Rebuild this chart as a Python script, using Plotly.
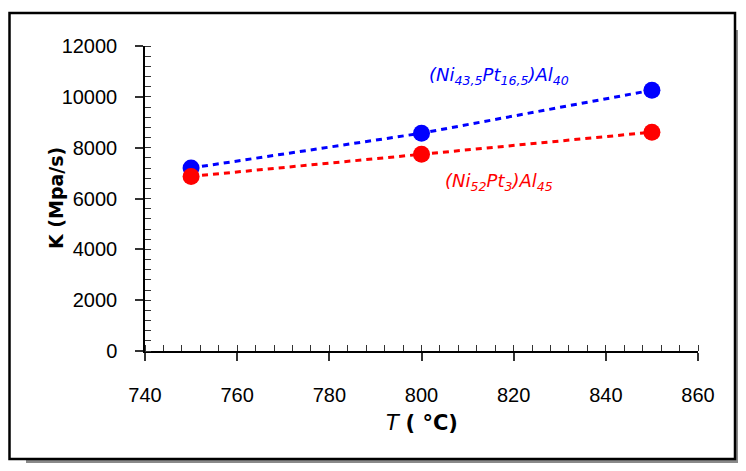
import plotly.graph_objects as go

temperature = [750, 800, 850]
k_alloy_a = [7200, 8570, 10260]   # (Ni43,5Pt16,5)Al40
k_alloy_b = [6870, 7740, 8610]    # (Ni52Pt3)Al45
x_ticks = [740, 760, 780, 800, 820, 840, 860]
y_ticks = [0, 2000, 4000, 6000, 8000, 10000, 12000]
y_tick_text = [str(v) for v in y_ticks]

# page body has an 8px margin; keep the page exactly 746x471 so nothing overflows
OFF = 8
W, H = 746 - 2 * OFF, 471 - 2 * OFF
L, R, T, B = 145 - OFF, W - (698 - OFF), 46 - OFF, H - (351 - OFF)
PW, PH = W - L - R, H - T - B

def px(x):
    # page x (reference pixels) -> paper coordinate
    return (x - OFF - L) / PW

def py(y):
    return (H - B - (y - OFF)) / PH

fig = go.Figure()
fig.add_trace(go.Scatter(
    x=temperature, y=k_alloy_a, mode="lines+markers",
    line=dict(color="#0000FF", width=3, dash="6px,5px"),
    marker=dict(color="#0000FF", size=17),
    showlegend=False))
fig.add_trace(go.Scatter(
    x=temperature, y=k_alloy_b, mode="lines+markers",
    line=dict(color="#FF0000", width=3, dash="6px,5px"),
    marker=dict(color="#FF0000", size=17),
    showlegend=False))

tickfont = dict(family="Liberation Sans, Arial, sans-serif", size=20, color="black")

fig.update_xaxes(range=[740, 860], tickvals=x_ticks, showline=True, linecolor="black",
                 linewidth=1.5, ticks="outside", ticklen=8, tickwidth=1.5, tickcolor="#333",
                 ticklabelstandoff=17, tickfont=tickfont, showgrid=False, zeroline=False,
                 minor=dict(dtick=4, ticks="inside", ticklen=6, tickcolor="#333", tickwidth=1.2))
fig.update_yaxes(range=[0, 12000], tickvals=y_ticks, ticktext=y_tick_text, showline=True,
                 linecolor="black", linewidth=1.5, ticks="outside", ticklen=8, tickwidth=1.5,
                 tickcolor="#333", ticklabelstandoff=14, tickfont=tickfont, showgrid=False,
                 zeroline=False,
                 minor=dict(dtick=400, ticks="inside", ticklen=6, tickcolor="#333", tickwidth=1.2))

shapes = [
    dict(type="rect", xref="paper", yref="paper", x0=px(26), x1=px(746), y0=py(30), y1=py(471),
         fillcolor="#8a8a8a", line=dict(width=0), layer="below"),
    dict(type="rect", xref="paper", yref="paper", x0=px(9.5), x1=px(735), y0=py(13), y1=py(459),
         fillcolor="white", line=dict(color="black", width=2.5), layer="below"),
]

annotations = [
    dict(x=816.8, y=10820, xref="x", yref="y", showarrow=False,
         text="<i>(Ni<sub>43,5</sub>Pt<sub>16,5</sub>)Al<sub>40</sub></i>",
         font=dict(family="DejaVu Sans, Verdana, sans-serif", size=18, color="#0000FF")),
    dict(x=816.8, y=6650, xref="x", yref="y", showarrow=False,
         text="<i>(Ni<sub>52</sub>Pt<sub>3</sub>)Al<sub>45</sub></i>",
         font=dict(family="DejaVu Sans, Verdana, sans-serif", size=18, color="#FF0000")),
    dict(x=px(43), y=py(198), xref="paper", yref="paper", showarrow=False, textangle=-90,
         text="<b>K (Mpa/s)</b>",
         font=dict(family="DejaVu Sans, Verdana, sans-serif", size=19, color="black")),
    dict(x=px(422), y=py(437), xref="paper", yref="paper", showarrow=False,
         text="<i>T</i> <b>( °C)</b>",
         font=dict(family="DejaVu Sans, Verdana, sans-serif", size=21, color="black")),
]

fig.update_layout(width=W, height=H, margin=dict(l=L, r=R, t=T, b=B),
                  paper_bgcolor="white", plot_bgcolor="rgba(0,0,0,0)",
                  shapes=shapes, annotations=annotations)

fig.write_html("out.html")
